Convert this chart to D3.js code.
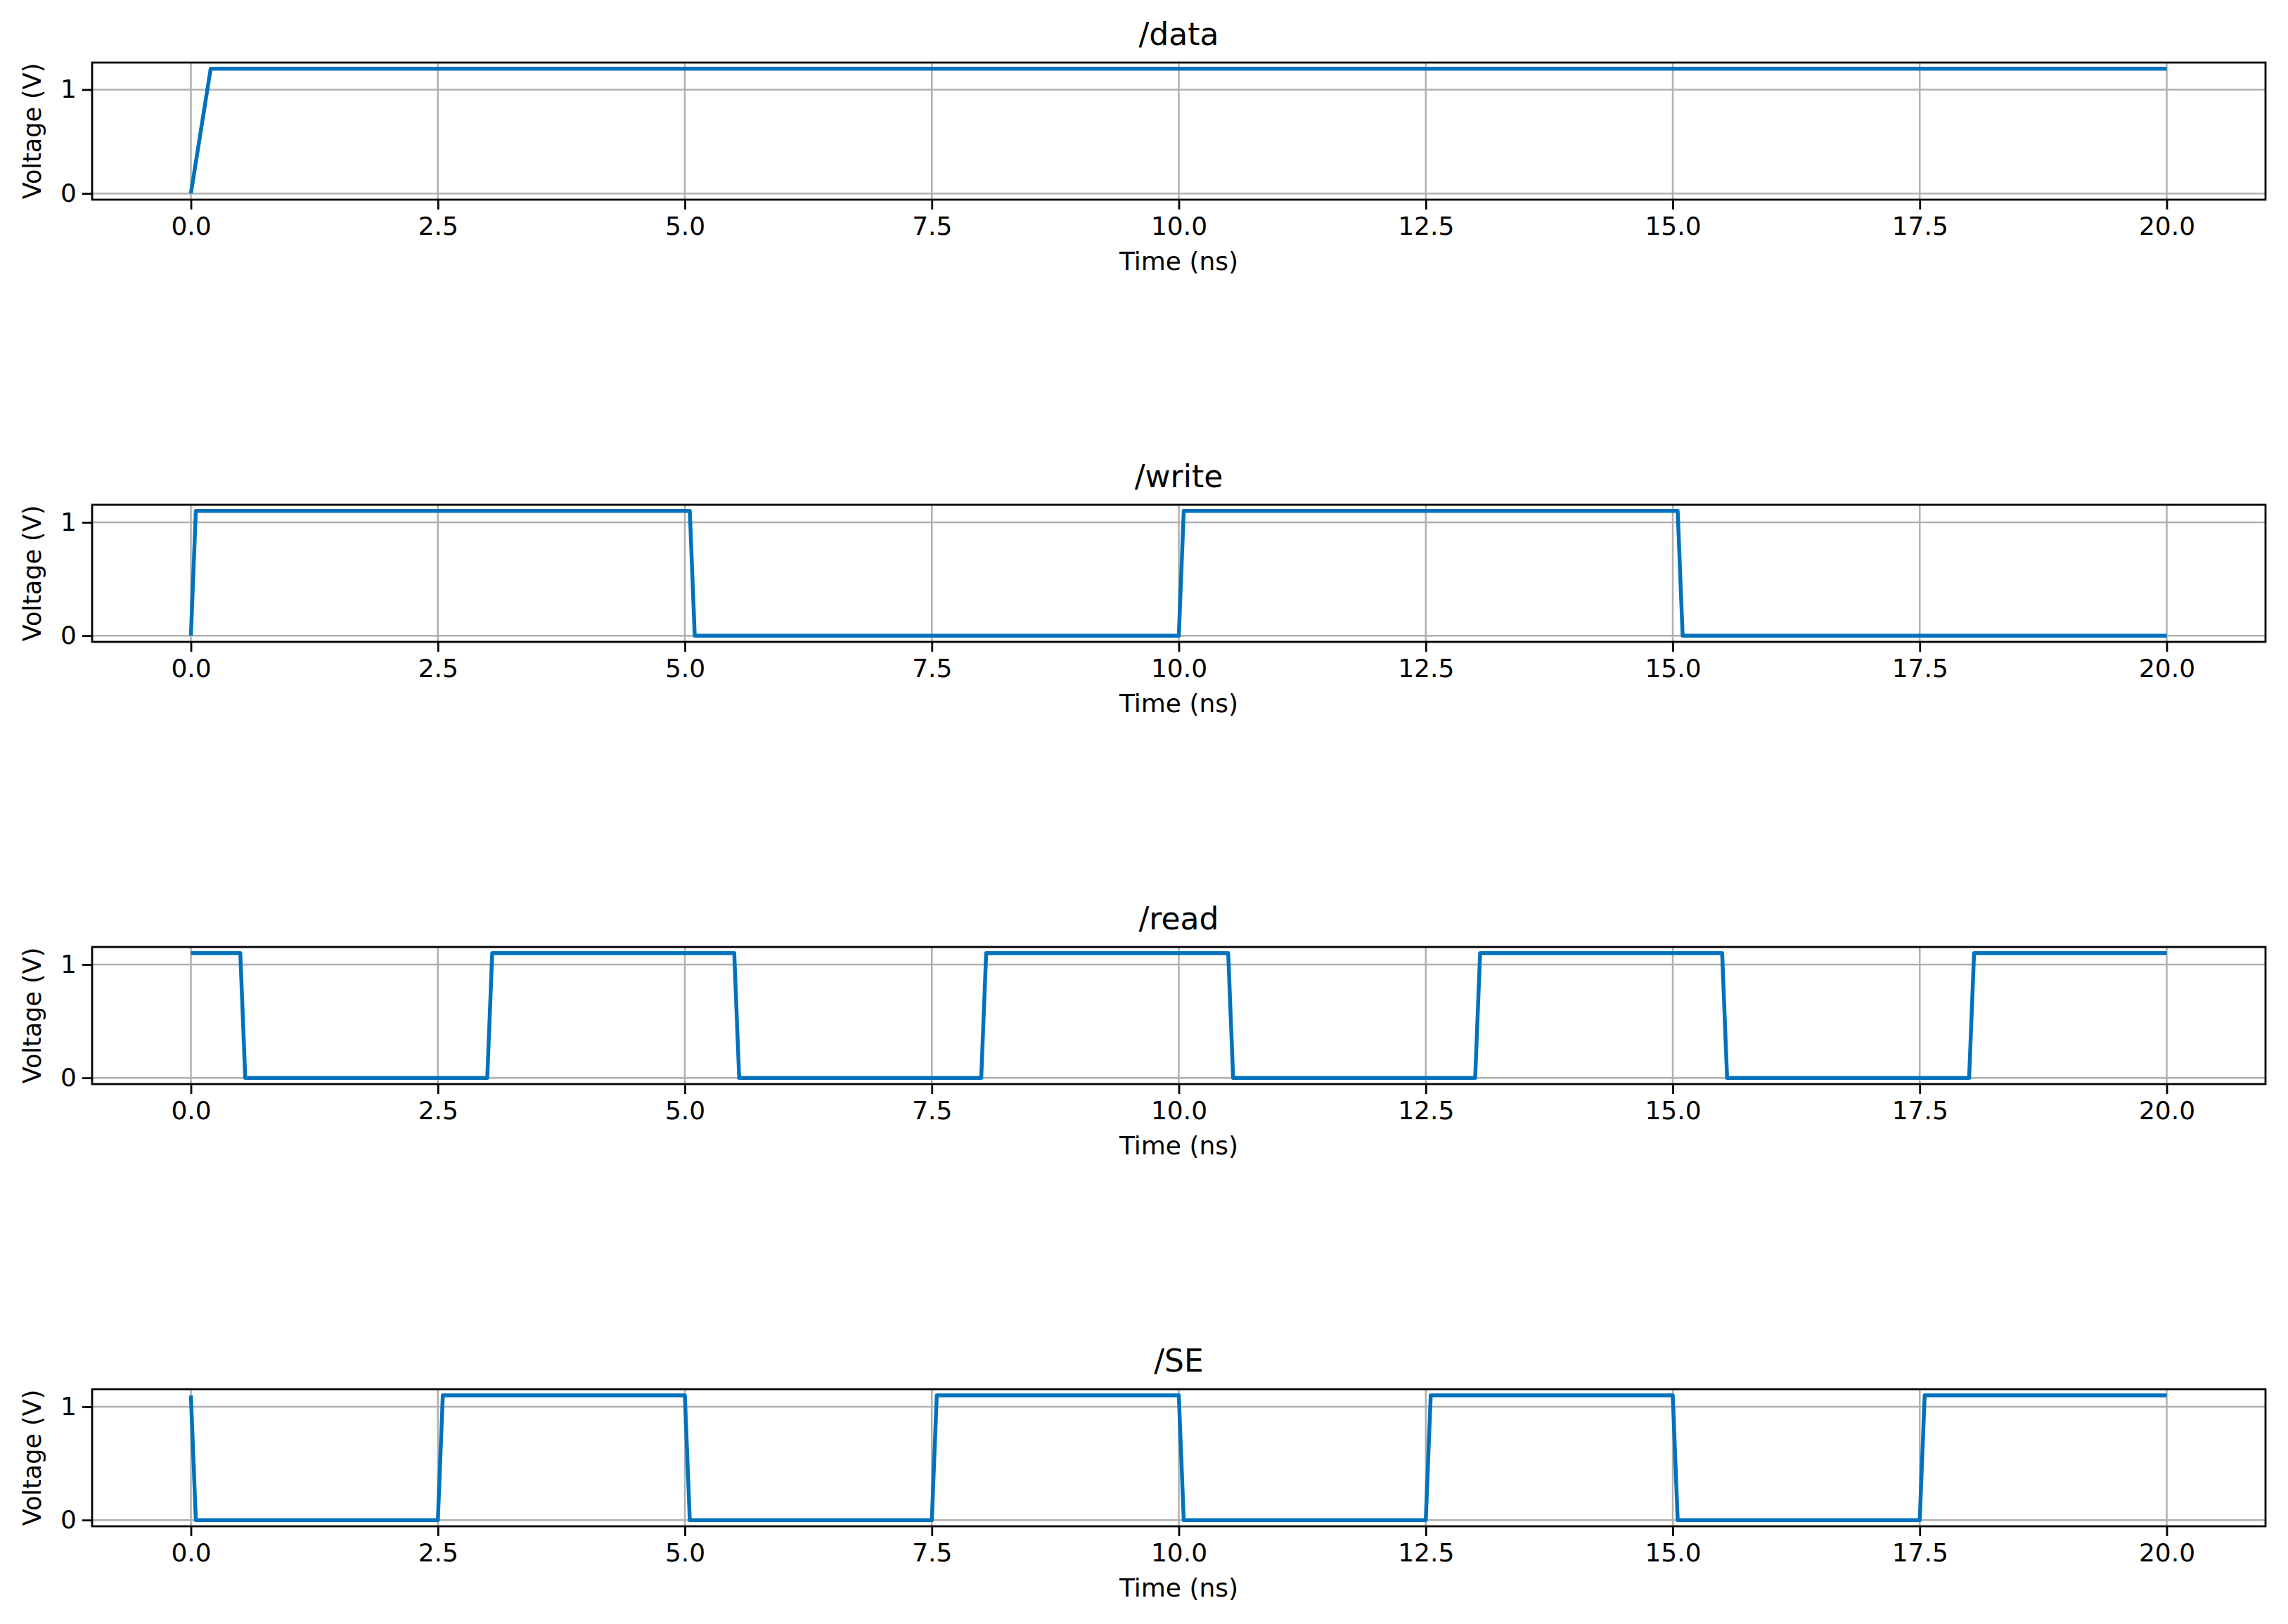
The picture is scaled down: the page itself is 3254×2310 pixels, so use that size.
<!DOCTYPE html>
<html>
<head>
<meta charset="utf-8">
<script src="https://cdn.jsdelivr.net/npm/d3@7"></script>
<style>
  body { margin: 0; background: #fff; }
  text { font-family: "DejaVu Sans", sans-serif; fill: #000; }
</style>
</head>
<body>
<svg id="chart" width="3254" height="2310"></svg>
<script>
// signal waveforms: breakpoints (ns) and voltages (V)
const dataT = [0, 0.2, 20];
const dataV = [0, 1.2, 1.2];

const writeT = [0, 0.05, 5.05, 5.1, 10.0, 10.05, 15.05, 15.1, 20];
const writeV = [0, 1.1, 1.1, 0, 0, 1.1, 1.1, 0, 0];

const readT = [0, 0.5, 0.55, 3.0, 3.05, 5.5, 5.55, 8.0, 8.05, 10.5, 10.55, 13.0, 13.05, 15.5, 15.55, 18.0, 18.05, 20];
const readV = [1.1, 1.1, 0, 0, 1.1, 1.1, 0, 0, 1.1, 1.1, 0, 0, 1.1, 1.1, 0, 0, 1.1, 1.1];

const seT = [0, 0.05, 2.5, 2.55, 5.0, 5.05, 7.5, 7.55, 10.0, 10.05, 12.5, 12.55, 15.0, 15.05, 17.5, 17.55, 20];
const seV = [1.1, 0, 0, 1.1, 1.1, 0, 0, 1.1, 1.1, 0, 0, 1.1, 1.1, 0, 0, 1.1, 1.1];

const panels = [
  { title: '/data', t: dataT, v: dataV },
  { title: '/write', t: writeT, v: writeV },
  { title: '/read', t: readT, v: readV },
  { title: '/SE', t: seT, v: seV },
];

const xTicks = [0, 2.5, 5, 7.5, 10, 12.5, 15, 17.5, 20];
const yTicks = [0, 1];

const left = 131, right = 3222;
const top0 = 89, panelH = 195, step = 629;

const svg = d3.select('#chart');
const x = d3.scaleLinear().domain([-1, 21]).range([left, right]);

panels.forEach((p, i) => {
  const top = top0 + i * step;
  const vmax = d3.max(p.v), vmin = d3.min(p.v);
  const pad = (vmax - vmin) * 0.05;
  const y = d3.scaleLinear().domain([vmin - pad, vmax + pad]).range([top + panelH, top]);
  const g = svg.append('g');

  // grid
  g.selectAll('.gx').data(xTicks).join('line')
    .attr('x1', (d) => x(d)).attr('x2', (d) => x(d))
    .attr('y1', top).attr('y2', top + panelH)
    .attr('stroke', '#b0b0b0').attr('stroke-width', 2.5);
  g.selectAll('.gy').data(yTicks).join('line')
    .attr('x1', left).attr('x2', right)
    .attr('y1', (d) => y(d)).attr('y2', (d) => y(d))
    .attr('stroke', '#b0b0b0').attr('stroke-width', 2.5);

  // signal
  const pts = p.t.map((t, k) => [t, p.v[k]]);
  g.append('path').datum(pts)
    .attr('fill', 'none').attr('stroke', '#0072bd').attr('stroke-width', 5.5)
    .attr('stroke-linejoin', 'round')
    .attr('d', d3.line().x((d) => x(d[0])).y((d) => y(d[1])));

  // frame
  g.append('rect').attr('x', left).attr('y', top)
    .attr('width', right - left).attr('height', panelH)
    .attr('fill', 'none').attr('stroke', '#000').attr('stroke-width', 2.8);

  // x axis
  const xa = g.append('g').attr('transform', `translate(0,${top + panelH})`);
  xa.call(d3.axisBottom(x).tickValues(d3.range(-1, 21.01, 0.5)).tickSize(7).tickFormat(''));
  xa.call(d3.axisBottom(x).tickValues(xTicks).tickSize(14).tickPadding(10).tickFormat(d3.format('.1f')));
  xa.selectAll('.domain').remove();
  xa.selectAll('line').attr('stroke-width', 2.8);
  xa.selectAll('text').attr('font-size', 36).style('font-family', '"DejaVu Sans", sans-serif');

  // y axis
  const ya = g.append('g').attr('transform', `translate(${left},0)`);
  ya.call(d3.axisLeft(y).tickValues(d3.range(0, vmax + pad, 0.2)).tickSize(7).tickFormat(''));
  ya.call(d3.axisLeft(y).tickValues(yTicks).tickSize(14).tickPadding(8).tickFormat(d3.format('d')));
  ya.selectAll('.domain').remove();
  ya.selectAll('line').attr('stroke-width', 2.8);
  ya.selectAll('text').attr('font-size', 36).style('font-family', '"DejaVu Sans", sans-serif');

  // labels
  g.append('text').attr('x', (left + right) / 2).attr('y', top - 25)
    .attr('text-anchor', 'middle').attr('font-size', 44).text(p.title);
  g.append('text').attr('x', (left + right) / 2).attr('y', top + panelH + 100)
    .attr('text-anchor', 'middle').attr('font-size', 36).text('Time (ns)');
  g.append('text')
    .attr('transform', `translate(${58},${top + panelH / 2}) rotate(-90)`)
    .attr('text-anchor', 'middle').attr('font-size', 35).text('Voltage (V)');
});
</script>
</body>
</html>
